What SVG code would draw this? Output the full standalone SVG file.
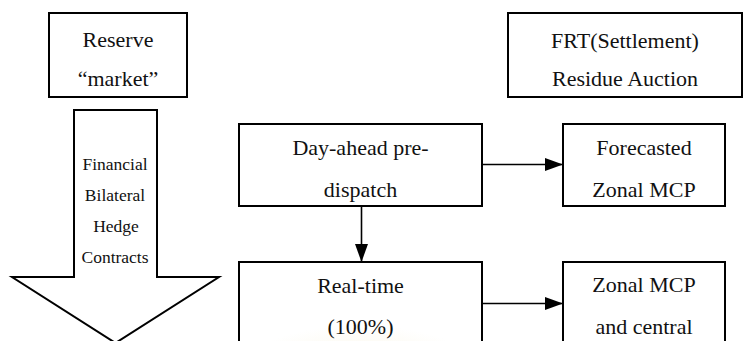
<svg xmlns="http://www.w3.org/2000/svg" width="753" height="341" viewBox="0 0 753 341">
  <defs>
    <style>
      .box { fill: #ffffff; stroke: #000000; stroke-width: 2; }
      .big { fill: none; stroke: #000000; stroke-width: 2; stroke-linejoin: miter; }
      .lbl { font-size: 22px; fill: #111111; text-anchor: middle; }
      .small { font-size: 17.5px; fill: #111111; text-anchor: middle; }
      .link { fill: none; stroke: #000000; stroke-width: 1.6; }
    </style>
    <marker id="head" viewBox="0 0 18 13" refX="18" refY="6.5" markerWidth="18" markerHeight="13" markerUnits="userSpaceOnUse" orient="auto">
      <path d="M0,0 L18,6.5 L0,13 Z" fill="#000000"/>
    </marker>
    <radialGradient id="tint" cx="0.5" cy="0.9" r="0.6">
      <stop offset="0" stop-color="#f3e9c4" stop-opacity="0.55"/>
      <stop offset="1" stop-color="#f3e9c4" stop-opacity="0"/>
    </radialGradient>
  </defs>

  <rect width="753" height="341" fill="#ffffff"/>

  <g font-family="Liberation Serif, Tinos, DejaVu Serif, serif">
    <g id="reserve-market">
      <rect class="box" x="49" y="13" width="138" height="84"/>
      <text class="lbl" x="118" y="47">Reserve</text>
      <text class="lbl" x="118" y="86">“market”</text>
    </g>

    <g id="hedge-contracts">
      <path class="big" d="M74,110 L157,110 L157,277 L219,277 L115.5,343 L12,277 L74,277 Z"/>
      <text class="small" x="115" y="170">Financial</text>
      <text class="small" x="115" y="201">Bilateral</text>
      <text class="small" x="116" y="232">Hedge</text>
      <text class="small" x="115" y="263">Contracts</text>
    </g>

    <g id="frt-auction">
      <rect class="box" x="508" y="13" width="234" height="84"/>
      <text class="lbl" x="625" y="48">FRT(Settlement)</text>
      <text class="lbl" x="625" y="86">Residue Auction</text>
    </g>

    <g id="day-ahead">
      <rect class="box" x="239" y="124" width="243" height="82"/>
      <text class="lbl" x="360.5" y="155">Day-ahead pre-</text>
      <text class="lbl" x="360.5" y="197">dispatch</text>
    </g>

    <g id="forecasted-mcp">
      <rect class="box" x="563" y="124" width="162" height="82"/>
      <text class="lbl" x="644" y="155">Forecasted</text>
      <text class="lbl" x="644" y="197">Zonal MCP</text>
    </g>

    <g id="real-time">
      <rect class="box" x="239" y="262" width="243" height="90"/>
      <ellipse cx="360" cy="345" rx="110" ry="50" fill="url(#tint)"/>
      <text class="lbl" x="360.5" y="293">Real-time</text>
      <text class="lbl" x="360.5" y="334">(100%)</text>
    </g>

    <g id="zonal-mcp">
      <rect class="box" x="563" y="262" width="162" height="90"/>
      <text class="lbl" x="644" y="292">Zonal MCP</text>
      <text class="lbl" x="644" y="334">and central</text>
    </g>
  </g>

  <g id="connectors">
    <line class="link" x1="483" y1="164.5" x2="563" y2="164.5" marker-end="url(#head)"/>
    <line class="link" x1="361.5" y1="207" x2="361.5" y2="262" marker-end="url(#head)"/>
    <line class="link" x1="483" y1="303.5" x2="563" y2="303.5" marker-end="url(#head)"/>
  </g>
</svg>
